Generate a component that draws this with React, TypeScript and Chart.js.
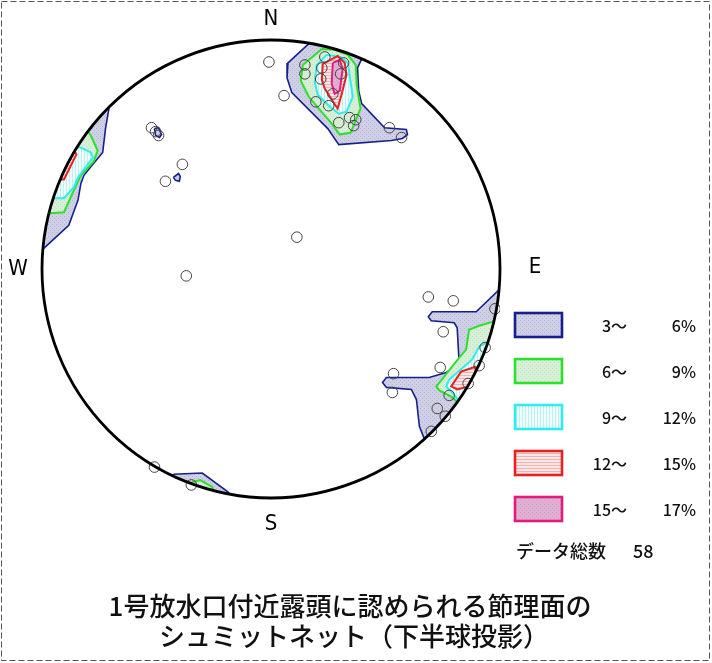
import React, { useEffect, useRef } from 'react';
import { Chart, registerables } from 'chart.js';

// ---------- data (Schmidt net coordinates, unit radius) ----------
const poleX = [-0.009, 0.148, 0.148, 0.057, 0.235, 0.222, 0.217, 0.317, 0.304, 0.27, 0.196, 0.252, 0.296, 0.343, 0.37, 0.361, 0.517, 0.57, -0.522, -0.504, -0.491, -0.387, -0.461, 0.113, -0.37, 0.687, 0.796, 0.978, 0.752, 0.935, 0.909, 0.739, 0.535, 0.53, 0.861, 0.778, 0.726, 0.761, 0.7, -0.509, -0.348];
const poleY = [0.904, 0.891, 0.852, 0.757, 0.926, 0.878, 0.83, 0.9, 0.852, 0.765, 0.73, 0.713, 0.639, 0.661, 0.652, 0.626, 0.617, 0.574, 0.617, 0.6, 0.583, 0.457, 0.383, 0.139, -0.03, -0.122, -0.139, -0.174, -0.274, -0.343, -0.422, -0.43, -0.457, -0.539, -0.5, -0.552, -0.609, -0.643, -0.709, -0.865, -0.943];

// contour polygons (3-6%)
const blueNE = [[0.187, 1.004], [0.074, 0.9], [0.07, 0.835], [0.091, 0.77], [0.248, 0.613], [0.296, 0.543], [0.526, 0.561], [0.574, 0.57], [0.596, 0.587], [0.591, 0.609], [0.496, 0.617], [0.396, 0.722], [0.383, 0.778], [0.378, 0.878], [0.404, 0.935], [0.3, 0.987]];
const blueW = [[-0.704, 0.722], [-0.722, 0.617], [-0.735, 0.509], [-0.817, 0.409], [-0.83, 0.374], [-0.843, 0.3], [-0.883, 0.191], [-0.996, 0.087], [-1.026, 0.087], [-1.004, 0.3], [-0.939, 0.474], [-0.83, 0.626], [-0.722, 0.735]];
const blueW2 = [[-0.509, 0.613], [-0.491, 0.617], [-0.478, 0.587], [-0.487, 0.574], [-0.504, 0.583]];
const blueW3 = [[-0.426, 0.4], [-0.404, 0.417], [-0.396, 0.404], [-0.4, 0.383], [-0.417, 0.387]];
const blueE = [[1.017, -0.07], [0.896, -0.187], [0.704, -0.187], [0.687, -0.209], [0.7, -0.226], [0.8, -0.235], [0.813, -0.257], [0.822, -0.417], [0.765, -0.452], [0.691, -0.474], [0.504, -0.474], [0.487, -0.496], [0.504, -0.517], [0.613, -0.526], [0.635, -0.57], [0.648, -0.687], [0.67, -0.743], [0.691, -0.787], [0.909, -0.483], [1.039, -0.265]];
const blueS = [[-0.426, -0.896], [-0.3, -0.891], [-0.187, -0.974], [-0.17, -1.004], [-0.304, -0.983], [-0.439, -0.939]];
// (6-9%)
const greenNE = [[0.222, 0.961], [0.139, 0.891], [0.13, 0.822], [0.165, 0.752], [0.265, 0.635], [0.3, 0.587], [0.348, 0.596], [0.391, 0.7], [0.374, 0.804], [0.37, 0.891], [0.335, 0.935], [0.278, 0.957]];
const greenW = [[-0.787, 0.583], [-0.757, 0.517], [-0.774, 0.47], [-0.83, 0.409], [-0.843, 0.383], [-0.904, 0.248], [-0.965, 0.243], [-1.004, 0.243], [-0.961, 0.387], [-0.896, 0.517], [-0.809, 0.613]];
const greenE = [[0.909, -0.248], [0.865, -0.265], [0.852, -0.352], [0.822, -0.387], [0.722, -0.513], [0.735, -0.53], [0.787, -0.557], [0.83, -0.596], [0.909, -0.548], [1.017, -0.265], [0.996, -0.222]];
const greenS = [[-0.343, -0.93], [-0.309, -0.922], [-0.257, -0.952], [-0.243, -0.991], [-0.361, -0.961]];
// (9-12%)
const cyanNE = [[0.243, 0.935], [0.2, 0.891], [0.191, 0.817], [0.204, 0.761], [0.257, 0.709], [0.296, 0.678], [0.33, 0.687], [0.357, 0.752], [0.343, 0.848], [0.335, 0.9], [0.304, 0.926]];
const cyanW = [[-0.83, 0.53], [-0.787, 0.509], [-0.778, 0.487], [-0.843, 0.4], [-0.861, 0.357], [-0.904, 0.309], [-0.948, 0.309], [-0.983, 0.309], [-0.939, 0.43], [-0.865, 0.539]];
const cyanE = [[0.939, -0.322], [0.909, -0.339], [0.878, -0.396], [0.778, -0.483], [0.765, -0.513], [0.791, -0.539], [0.822, -0.578], [0.887, -0.548], [0.996, -0.33]];
// (12-15%)
const redNE = [[0.226, 0.896], [0.291, 0.93], [0.322, 0.9], [0.33, 0.848], [0.309, 0.765], [0.291, 0.7], [0.235, 0.787], [0.222, 0.826]];
const redW = [[-0.848, 0.504], [-0.904, 0.391], [-0.926, 0.391], [-0.87, 0.509]];
const redE = [[0.896, -0.426], [0.83, -0.448], [0.787, -0.513], [0.813, -0.526], [0.865, -0.513], [0.887, -0.483]];
// (15-17%)
const magentaNE = [[0.27, 0.9], [0.3, 0.913], [0.313, 0.874], [0.3, 0.778], [0.278, 0.765], [0.265, 0.809]];

// legend
const levelFrom = ['3～', '6～', '9～', '12～', '15～'];
const levelTo = ['6%', '9%', '12%', '15%', '17%'];
const lineColors = ['#17208a', '#2ee02e', '#30ecec', '#e52222', '#e21c7c'];
const dataCountLabel = 'データ総数';
const dataCount = '58';
const directionLabels = ['N', 'E', 'S', 'W'];
const titleLines = ['1号放水口付近露頭に認められる節理面の', 'シュミットネット（下半球投影）'];

const FONT_JP = '"Noto Sans CJK JP", "Noto Sans", sans-serif';
const FONT_DIR = '"DejaVu Sans Condensed", "DejaVu Sans", sans-serif';

const circleClip = {
  id: 'circleClip',
  beforeDatasetDraw(chart: any, args: any) {
    const ds = chart.data.datasets[args.index];
    if (!ds || !ds.clipToNet) return;
    const xs = chart.scales.x, ys = chart.scales.y;
    const cx = xs.getPixelForValue(0), cy = ys.getPixelForValue(0);
    const r = xs.getPixelForValue(1) - cx;
    const ctx = chart.ctx;
    ctx.save();
    ctx.beginPath();
    ctx.arc(cx, cy, r, 0, Math.PI * 2);
    ctx.clip();
  },
  afterDatasetDraw(chart: any, args: any) {
    const ds = chart.data.datasets[args.index];
    if (ds && ds.clipToNet) chart.ctx.restore();
  },
};

Chart.register(circleClip, ...registerables);

function makePattern(ctx: CanvasRenderingContext2D, base: string, mark: string, kind: string, size: number) {
  const c = document.createElement('canvas');
  c.width = size; c.height = size;
  const g = c.getContext('2d')!;
  g.fillStyle = base; g.fillRect(0, 0, size, size);
  g.fillStyle = mark;
  if (kind === 'dots') { g.fillRect(0, 0, 1, 1); g.fillRect(2, 2, 1, 1); }
  else if (kind === 'vlines') g.fillRect(0, 0, 1, size);
  else g.fillRect(0, 0, size, 1);
  return ctx.createPattern(c, 'repeat')!;
}

export default function App() {
  const ref = useRef<HTMLCanvasElement>(null);
  useEffect(() => {
    const canvas = ref.current!;
    const ctx0 = canvas.getContext('2d')!;
    const fills = [
      makePattern(ctx0, '#cfcfe5', '#b4b4d4', 'dots', 4),
      makePattern(ctx0, '#d6efd6', '#c0e4c0', 'dots', 4),
      makePattern(ctx0, '#effdfd', '#bdf1f1', 'vlines', 3),
      makePattern(ctx0, '#fbe6e6', '#eeb4b4', 'hlines', 3),
      makePattern(ctx0, '#e0b0d2', '#d09cc4', 'dots', 4),
    ];
    const contours: [number, number[][]][] = [
      [4, magentaNE],
      [3, redNE], [3, redW], [3, redE],
      [2, cyanNE], [2, cyanW], [2, cyanE],
      [1, greenNE], [1, greenW], [1, greenE], [1, greenS],
      [0, blueNE], [0, blueW], [0, blueW2], [0, blueW3], [0, blueE], [0, blueS],
    ];
    const polyDatasets = contours.map(([lvl, pts]) => ({
      type: 'line',
      data: [...pts, pts[0]].map(([x, y]) => ({ x, y })),
      borderColor: lineColors[lvl],
      borderWidth: lvl === 0 ? 1.6 : 2,
      backgroundColor: fills[lvl],
      fill: 'shape',
      pointRadius: 0,
      tension: 0,
      clipToNet: true,
    }));
    const poles = {
      type: 'scatter',
      data: poleX.map((x, i) => ({ x, y: poleY[i] })),
      pointRadius: 5.3,
      pointBorderWidth: 1,
      pointBorderColor: '#444',
      pointBackgroundColor: 'rgba(0,0,0,0)',
      showLine: false,
    };

    const decor = {
      id: 'decor',
      afterDatasetsDraw(chart: any) {
        const ctx = chart.ctx;
        const xs = chart.scales.x, ys = chart.scales.y;
        const cx = xs.getPixelForValue(0), cy = ys.getPixelForValue(0);
        const r = xs.getPixelForValue(1) - cx;
        ctx.save();
        ctx.beginPath();
        ctx.arc(cx, cy, r, 0, Math.PI * 2);
        ctx.lineWidth = 2.8;
        ctx.strokeStyle = '#000';
        ctx.stroke();
        ctx.restore();
      },
      afterDraw(chart: any) {
        const ctx = chart.ctx;
        const xs = chart.scales.x, ys = chart.scales.y;
        const cx = xs.getPixelForValue(0), cy = ys.getPixelForValue(0);
        const r = xs.getPixelForValue(1) - cx;
        ctx.save();
        // frame
        ctx.setLineDash([6, 3]);
        ctx.strokeStyle = '#555';
        ctx.lineWidth = 1;
        ctx.strokeRect(1.5, 1.5, 708, 659);
        ctx.setLineDash([]);
        // directions
        ctx.fillStyle = '#000';
        ctx.font = '22px ' + FONT_DIR;
        ctx.textAlign = 'center';
        ctx.textBaseline = 'middle';
        ctx.fillText(directionLabels[0], cx, cy - r - 21);
        ctx.fillText(directionLabels[1], cx + r + 35, cy - 2);
        ctx.fillText(directionLabels[2], cx, cy + r + 26);
        ctx.fillText(directionLabels[3], cx - r - 24, cy);
        // legend
        const lx = 515, ly = 313, step = 46;
        for (let i = 0; i < levelFrom.length; i++) {
          const y = ly + i * step;
          ctx.fillStyle = fills[i];
          ctx.fillRect(lx, y, 47, 24);
          ctx.strokeStyle = lineColors[i];
          ctx.lineWidth = 2.6;
          ctx.strokeRect(lx, y, 47, 24);
          ctx.fillStyle = '#111';
          ctx.font = '500 16px ' + FONT_JP;
          ctx.textBaseline = 'middle';
          ctx.textAlign = 'right';
          ctx.fillText(levelFrom[i], 627, y + 13);
          ctx.fillText(levelTo[i], 696, y + 13);
        }
        ctx.textAlign = 'left';
        ctx.font = '500 18px ' + FONT_JP;
        ctx.fillText(dataCountLabel, 516, 551);
        ctx.fillText(dataCount, 633, 551);
        // title
        ctx.textAlign = 'center';
        ctx.font = '500 26px ' + FONT_JP;
        ctx.fillText(titleLines[0], 350, 606);
        ctx.fillText(titleLines[1], 354, 636);
        ctx.restore();
      },
    };

    const chart = new Chart(canvas, {
      type: 'scatter',
      data: { datasets: [poles, ...polyDatasets] as any },
      options: {
        animation: false,
        responsive: false,
        events: [],
        layout: { padding: { left: 42, right: 212, top: 40, bottom: 165 } },
        scales: {
          x: { type: 'linear', min: -1, max: 1, display: false },
          y: { type: 'linear', min: -1, max: 1, display: false },
        },
        plugins: { legend: { display: false }, tooltip: { enabled: false } },
      } as any,
      plugins: [decor],
    });
    return () => chart.destroy();
  }, []);
  return (
    <div style={{ position: 'absolute', left: 0, top: 0, width: 712, height: 663, background: '#fff' }}>
      <canvas ref={ref} width={712} height={663} style={{ display: 'block' }} />
    </div>
  );
}
